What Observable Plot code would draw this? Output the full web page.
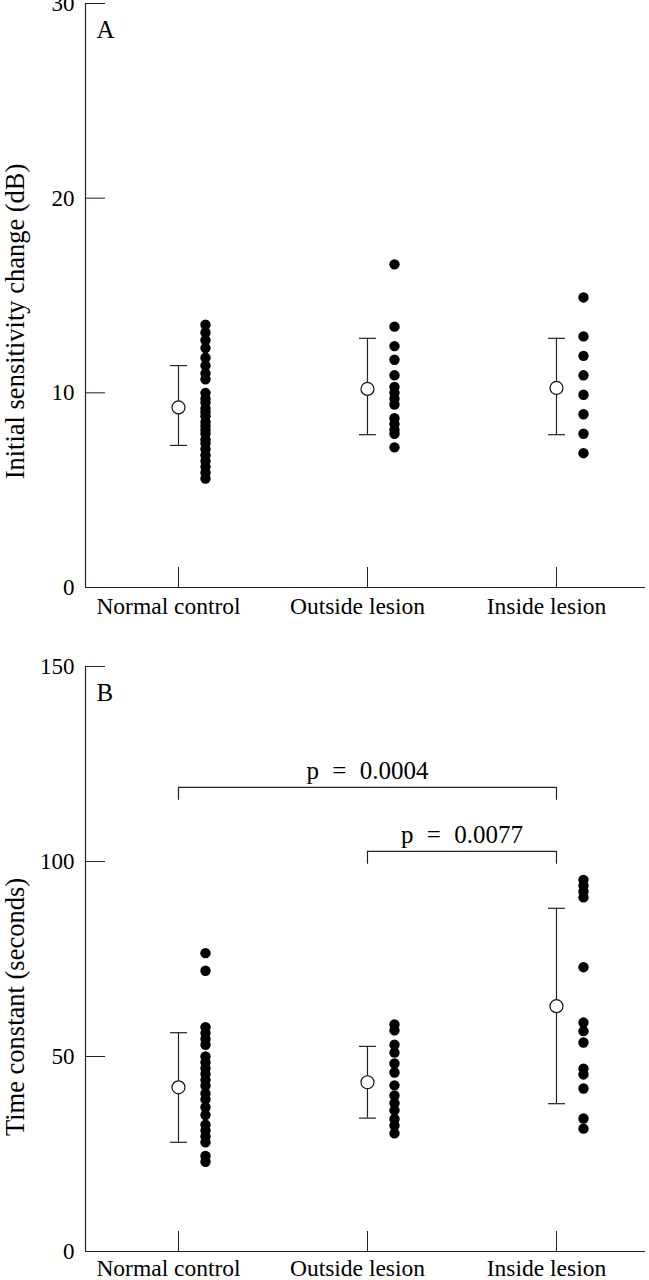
<!DOCTYPE html>
<html>
<head>
<meta charset="utf-8">
<script src="https://cdn.jsdelivr.net/npm/d3@7"></script>
<script src="https://cdn.jsdelivr.net/npm/@observablehq/plot@0.6"></script>
<style>
  html, body { margin: 0; padding: 0; background: #fff; }
  #chart svg { display: block; overflow: visible; }
</style>
</head>
<body>
<div id="chart"></div>
<script>
const categories = ["Normal control", "Outside lesion", "Inside lesion"];

// Panel A: initial sensitivity change (dB)
const aNormal = [13.5, 13.1, 12.7, 12.3, 11.8, 11.4, 11.0, 10.7, 10.0, 9.7, 9.5, 9.2, 9.0, 8.8, 8.5, 8.3, 8.1, 7.9, 7.6, 7.4, 7.1, 6.8, 6.5, 6.2, 5.9, 5.6];
const aOutside = [16.6, 13.4, 12.4, 11.7, 10.9, 10.3, 10.0, 9.7, 9.4, 8.7, 8.4, 8.1, 7.9, 7.2];
const aInside = [14.9, 12.9, 11.9, 10.9, 9.9, 8.9, 7.9, 6.9];
const aMean = [9.25, 10.2, 10.25];
const aLow = [7.3, 7.85, 7.85];
const aHigh = [11.4, 12.8, 12.8];
const aTicks = [0, 10, 20, 30];

// Panel B: time constant (seconds)
const bNormal = [76.5, 72, 57.5, 56, 54.5, 53, 50, 48.5, 47, 45.5, 44, 42.5, 40.5, 39, 37, 35, 32.5, 31, 29.5, 28, 24.5, 23];
const bOutside = [58.2, 56.7, 53, 51, 48.2, 45.9, 42.6, 40, 38, 36.2, 34, 32.3, 30.3];
const bInside = [95.3, 93.8, 92.3, 90.8, 72.9, 58.7, 56.5, 53.6, 46.9, 45.4, 41.8, 34.1, 31.5];
const bMean = [42.1, 43.4, 62.9];
const bLow = [28.0, 34.2, 37.9];
const bHigh = [56.1, 52.6, 88.0];
const bTicks = [0, 50, 100, 150];

const bracketFrom = [0, 1];
const bracketTo = [2, 2];
const bracketY = [119, 102.6];
const bracketLabels = ["p = 0.0004", "p = 0.0077"];

const FONT = "'Liberation Serif', 'Times New Roman', serif";
const xDomain = [-0.492, 2.471];

const capSymbol = {
  draw(context, size) {
    const r = Math.sqrt(size / Math.PI);
    context.moveTo(-r, 0);
    context.lineTo(r, 0);
  }
};

function panel({series, mean, low, high, yMax, yTicks, yLabel, labelShift, letter, height, marginTop, marginBottom, xPad, brackets}) {
  const dots = series.flatMap((vals, i) => vals.map(v => ({i, v})));
  const summary = mean.map((m, i) => ({i, mean: m, low: low[i], high: high[i]}));
  const caps = summary.flatMap(d => [{i: d.i, v: d.low}, {i: d.i, v: d.high}]);
  const marks = [
    Plot.ruleY([0], {stroke: "#222", strokeWidth: 1.2}),
    Plot.ruleX([xDomain[0]], {stroke: "#222", strokeWidth: 1.2}),
    Plot.axisX({ticks: [0, 1, 2], tickSize: -20, tickFormat: () => "", label: null, stroke: "#222"}),
    Plot.axisX({ticks: [0, 1, 2], tickSize: 0, tickPadding: xPad, dx: -10, tickFormat: i => categories[i], label: null, fontSize: 23.5}),
    Plot.axisY({ticks: yTicks, tickSize: -20, tickFormat: () => "", label: null, stroke: "#222"}),
    Plot.axisY({ticks: yTicks, tickSize: 0, tickPadding: 11, label: null, fontSize: 23}),
    Plot.text([yLabel], {frameAnchor: "left", dx: -70, dy: labelShift, rotate: -90, textAnchor: "middle", fontSize: 26.5}),
    Plot.text([letter], {frameAnchor: "top-left", dx: 11, dy: 17, textAnchor: "start", lineAnchor: "top", fontSize: 25}),
    Plot.ruleX(summary, {x: "i", y1: "low", y2: "high", stroke: "#222", strokeWidth: 1.2}),
    Plot.dot(caps, {x: "i", y: "v", symbol: capSymbol, r: 8.5, stroke: "#222", fill: "none", strokeWidth: 1.2}),
    Plot.dot(summary, {x: "i", y: "mean", r: 6.5, fill: "white", stroke: "#111", strokeWidth: 1.2}),
    Plot.dot(dots, {x: "i", y: "v", dx: 27, r: 5.2, fill: "black", stroke: "none"})
  ];
  if (brackets) {
    const bDrop = 3.3;
    const ends = brackets.flatMap(b => [{x: b.from, y: b.y}, {x: b.to, y: b.y}]);
    marks.push(
      Plot.ruleY(brackets, {y: "y", x1: "from", x2: "to", stroke: "#222", strokeWidth: 1.2}),
      Plot.ruleX(ends, {x: "x", y1: "y", y2: d => d.y - bDrop, stroke: "#222", strokeWidth: 1.2}),
      Plot.text(brackets, {x: d => (d.from + d.to) / 2, y: "y", text: "label", dy: -16, fontSize: 25})
    );
  }
  const svg = Plot.plot({
    width: 649,
    height,
    marginLeft: 85,
    marginRight: 4,
    marginTop,
    marginBottom,
    style: {fontFamily: FONT, fontSize: "22px", color: "#000", background: "white"},
    x: {domain: xDomain, axis: null},
    y: {domain: [0, yMax], axis: null},
    marks
  });
  d3.select(svg).selectAll("text")
    .filter(function() { return /^p =/.test(this.textContent); })
    .style("word-spacing", "7px");
  return svg;
}

const brackets = bracketFrom.map((f, k) => ({from: f, to: bracketTo[k], y: bracketY[k], label: bracketLabels[k]}));

const chart = document.getElementById("chart");
chart.append(panel({
  series: [aNormal, aOutside, aInside], mean: aMean, low: aLow, high: aHigh,
  yMax: 30, yTicks: aTicks, yLabel: "Initial sensitivity change (dB)", labelShift: 26, letter: "A",
  height: 630, marginTop: 3, marginBottom: 43, xPad: 10
}));
chart.append(panel({
  series: [bNormal, bOutside, bInside], mean: bMean, low: bLow, high: bHigh,
  yMax: 150, yTicks: bTicks, yLabel: "Time constant (seconds)", labelShift: 48, letter: "B",
  height: 650, marginTop: 36, marginBottom: 29, xPad: 8, brackets
}));
</script>
</body>
</html>
